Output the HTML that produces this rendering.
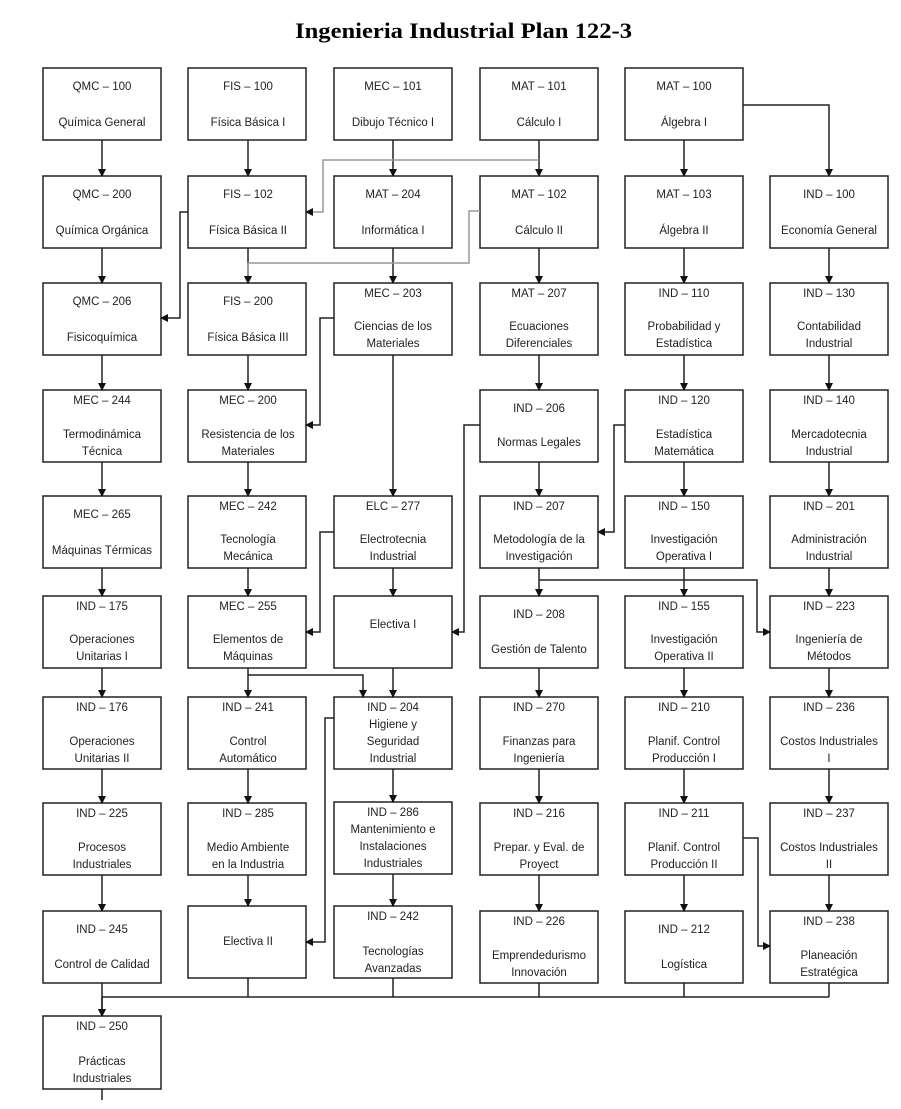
<!DOCTYPE html>
<html><head><meta charset="utf-8"><style>
body{margin:0;background:#fff}
svg text{font-family:"Liberation Sans",sans-serif;font-size:11.5px;fill:#222;text-anchor:middle}
</style></head><body>
<svg width="901" height="1104" viewBox="0 0 901 1104" xmlns="http://www.w3.org/2000/svg">
<defs><marker id="a" markerWidth="8" markerHeight="8" refX="7" refY="4" orient="auto" markerUnits="userSpaceOnUse"><path d="M0,0 L8,4 L0,8 z" fill="#111"/></marker></defs>
<text x="295" y="38" textLength="337" lengthAdjust="spacingAndGlyphs" style="font-family:'Liberation Serif',serif;font-size:22px;font-weight:bold;fill:#000;text-anchor:start">Ingenieria Industrial Plan 122-3</text>
<g fill="none" stroke="#222" stroke-width="1.5">
<rect x="43" y="68" width="118" height="72"/><rect x="188" y="68" width="118" height="72"/><rect x="334" y="68" width="118" height="72"/><rect x="480" y="68" width="118" height="72"/><rect x="625" y="68" width="118" height="72"/>
<rect x="43" y="176" width="118" height="72"/><rect x="188" y="176" width="118" height="72"/><rect x="334" y="176" width="118" height="72"/><rect x="480" y="176" width="118" height="72"/><rect x="625" y="176" width="118" height="72"/><rect x="770" y="176" width="118" height="72"/>
<rect x="43" y="283" width="118" height="72"/><rect x="188" y="283" width="118" height="72"/><rect x="334" y="283" width="118" height="72"/><rect x="480" y="283" width="118" height="72"/><rect x="625" y="283" width="118" height="72"/><rect x="770" y="283" width="118" height="72"/>
<rect x="43" y="390" width="118" height="72"/><rect x="188" y="390" width="118" height="72"/><rect x="480" y="390" width="118" height="72"/><rect x="625" y="390" width="118" height="72"/><rect x="770" y="390" width="118" height="72"/>
<rect x="43" y="496" width="118" height="72"/><rect x="188" y="496" width="118" height="72"/><rect x="334" y="496" width="118" height="72"/><rect x="480" y="496" width="118" height="72"/><rect x="625" y="496" width="118" height="72"/><rect x="770" y="496" width="118" height="72"/>
<rect x="43" y="596" width="118" height="72"/><rect x="188" y="596" width="118" height="72"/><rect x="334" y="596" width="118" height="72"/><rect x="480" y="596" width="118" height="72"/><rect x="625" y="596" width="118" height="72"/><rect x="770" y="596" width="118" height="72"/>
<rect x="43" y="697" width="118" height="72"/><rect x="188" y="697" width="118" height="72"/><rect x="334" y="697" width="118" height="72"/><rect x="480" y="697" width="118" height="72"/><rect x="625" y="697" width="118" height="72"/><rect x="770" y="697" width="118" height="72"/>
<rect x="43" y="803" width="118" height="72"/><rect x="188" y="803" width="118" height="72"/><rect x="334" y="802" width="118" height="72"/><rect x="480" y="803" width="118" height="72"/><rect x="625" y="803" width="118" height="72"/><rect x="770" y="803" width="118" height="72"/>
<rect x="43" y="911" width="118" height="72"/><rect x="188" y="906" width="118" height="72"/><rect x="334" y="906" width="118" height="72"/><rect x="480" y="911" width="118" height="72"/><rect x="625" y="911" width="118" height="72"/><rect x="770" y="911" width="118" height="72"/>
<rect x="43" y="1016" width="118" height="73"/>
</g>
<g fill="none" stroke="#222" stroke-width="1.5" marker-end="url(#a)">
<path d="M102 140V176"/><path d="M102 248V283"/><path d="M102 355V390"/><path d="M102 462V496"/><path d="M102 568V596"/><path d="M102 668V697"/><path d="M102 769V803"/><path d="M102 875V911"/><path d="M102 983V1016"/>
<path d="M248 140V176"/><path d="M248 248V283"/><path d="M248 355V390"/><path d="M248 462V496"/><path d="M248 568V596"/><path d="M248 668V697"/><path d="M248 769V803"/><path d="M248 875V906"/>
<path d="M393 140V176"/><path d="M393 248V283"/><path d="M393 355V496"/><path d="M393 568V596"/><path d="M393 668V697"/><path d="M393 769V802"/><path d="M393 874V906"/>
<path d="M539 140V176"/><path d="M539 248V283"/><path d="M539 355V390"/><path d="M539 462V496"/><path d="M539 568V596"/><path d="M539 668V697"/><path d="M539 769V803"/><path d="M539 875V911"/>
<path d="M684 140V176"/><path d="M684 248V283"/><path d="M684 355V390"/><path d="M684 462V496"/><path d="M684 568V596"/><path d="M684 668V697"/><path d="M684 769V803"/><path d="M684 875V911"/>
<path d="M743 105H829V176"/><path d="M829 248V283"/><path d="M829 355V390"/><path d="M829 462V496"/><path d="M829 568V596"/><path d="M829 668V697"/><path d="M829 769V803"/><path d="M829 875V911"/>
<path d="M188 212H180V318H161"/>
<path d="M334 318H320V425H306"/>
<path d="M334 532H320V632H306"/>
<path d="M480 425H464V632H452"/>
<path d="M625 425H614V532H598"/>
<path d="M539 580H757V632H770"/>
<path d="M248 675H363V697"/>
<path d="M334 718H325V942H306"/>
<path d="M743 838H758V946H770"/>
<path d="M102 997V1016"/>
</g>
<g fill="none" stroke="#999" stroke-width="1.5" marker-end="url(#a)">
<path d="M539 160H323V212H306"/>
<path d="M480 211H469V263H248V283"/>
</g>
<g fill="none" stroke="#222" stroke-width="1.5">
<path d="M102 997H829"/><path d="M248 978V997"/><path d="M393 978V997"/><path d="M539 983V997"/><path d="M684 983V997"/><path d="M829 983V997"/>
<path d="M102 1089V1100"/>
</g>
<g>
<text x="102" y="90">QMC – 100</text><text x="102" y="126">Química General</text>
<text x="248" y="90">FIS – 100</text><text x="248" y="126">Física Básica I</text>
<text x="393" y="90">MEC – 101</text><text x="393" y="126">Dibujo Técnico I</text>
<text x="539" y="90">MAT – 101</text><text x="539" y="126">Cálculo I</text>
<text x="684" y="90">MAT – 100</text><text x="684" y="126">Álgebra I</text>

<text x="102" y="198">QMC – 200</text><text x="102" y="234">Química Orgánica</text>
<text x="248" y="198">FIS – 102</text><text x="248" y="234">Física Básica II</text>
<text x="393" y="198">MAT – 204</text><text x="393" y="234">Informática I</text>
<text x="539" y="198">MAT – 102</text><text x="539" y="234">Cálculo II</text>
<text x="684" y="198">MAT – 103</text><text x="684" y="234">Álgebra II</text>
<text x="829" y="198">IND – 100</text><text x="829" y="234">Economía General</text>

<text x="102" y="305">QMC – 206</text><text x="102" y="341">Fisicoquímica</text>
<text x="248" y="305">FIS – 200</text><text x="248" y="341">Física Básica III</text>
<text x="393" y="297">MEC – 203</text><text x="393" y="330">Ciencias de los</text><text x="393" y="347">Materiales</text>
<text x="539" y="297">MAT – 207</text><text x="539" y="330">Ecuaciones</text><text x="539" y="347">Diferenciales</text>
<text x="684" y="297">IND – 110</text><text x="684" y="330">Probabilidad y</text><text x="684" y="347">Estadística</text>
<text x="829" y="297">IND – 130</text><text x="829" y="330">Contabilidad</text><text x="829" y="347">Industrial</text>

<text x="102" y="404">MEC – 244</text><text x="102" y="438">Termodinámica</text><text x="102" y="455">Técnica</text>
<text x="248" y="404">MEC – 200</text><text x="248" y="438">Resistencia de los</text><text x="248" y="455">Materiales</text>
<text x="539" y="412">IND – 206</text><text x="539" y="446">Normas Legales</text>
<text x="684" y="404">IND – 120</text><text x="684" y="438">Estadística</text><text x="684" y="455">Matemática</text>
<text x="829" y="404">IND – 140</text><text x="829" y="438">Mercadotecnia</text><text x="829" y="455">Industrial</text>

<text x="102" y="518">MEC – 265</text><text x="102" y="554">Máquinas Térmicas</text>
<text x="248" y="510">MEC – 242</text><text x="248" y="543">Tecnología</text><text x="248" y="560">Mecánica</text>
<text x="393" y="510">ELC – 277</text><text x="393" y="543">Electrotecnia</text><text x="393" y="560">Industrial</text>
<text x="539" y="510">IND – 207</text><text x="539" y="543">Metodología de la</text><text x="539" y="560">Investigación</text>
<text x="684" y="510">IND – 150</text><text x="684" y="543">Investigación</text><text x="684" y="560">Operativa I</text>
<text x="829" y="510">IND – 201</text><text x="829" y="543">Administración</text><text x="829" y="560">Industrial</text>

<text x="102" y="610">IND – 175</text><text x="102" y="643">Operaciones</text><text x="102" y="660">Unitarias I</text>
<text x="248" y="610">MEC – 255</text><text x="248" y="643">Elementos de</text><text x="248" y="660">Máquinas</text>
<text x="393" y="628">Electiva I</text>
<text x="539" y="618">IND – 208</text><text x="539" y="653">Gestión de Talento</text>
<text x="684" y="610">IND – 155</text><text x="684" y="643">Investigación</text><text x="684" y="660">Operativa II</text>
<text x="829" y="610">IND – 223</text><text x="829" y="643">Ingeniería de</text><text x="829" y="660">Métodos</text>

<text x="102" y="711">IND – 176</text><text x="102" y="745">Operaciones</text><text x="102" y="762">Unitarias II</text>
<text x="248" y="711">IND – 241</text><text x="248" y="745">Control</text><text x="248" y="762">Automático</text>
<text x="393" y="711">IND – 204</text><text x="393" y="728">Higiene y</text><text x="393" y="745">Seguridad</text><text x="393" y="762">Industrial</text>
<text x="539" y="711">IND – 270</text><text x="539" y="745">Finanzas para</text><text x="539" y="762">Ingeniería</text>
<text x="684" y="711">IND – 210</text><text x="684" y="745">Planif. Control</text><text x="684" y="762">Producción I</text>
<text x="829" y="711">IND – 236</text><text x="829" y="745">Costos Industriales</text><text x="829" y="762">I</text>

<text x="102" y="817">IND – 225</text><text x="102" y="851">Procesos</text><text x="102" y="868">Industriales</text>
<text x="248" y="817">IND – 285</text><text x="248" y="851">Medio Ambiente</text><text x="248" y="868">en la Industria</text>
<text x="393" y="816">IND – 286</text><text x="393" y="833">Mantenimiento e</text><text x="393" y="850">Instalaciones</text><text x="393" y="867">Industriales</text>
<text x="539" y="817">IND – 216</text><text x="539" y="851">Prepar. y Eval. de</text><text x="539" y="868">Proyect</text>
<text x="684" y="817">IND – 211</text><text x="684" y="851">Planif. Control</text><text x="684" y="868">Producción II</text>
<text x="829" y="817">IND – 237</text><text x="829" y="851">Costos Industriales</text><text x="829" y="868">II</text>

<text x="102" y="933">IND – 245</text><text x="102" y="968">Control de Calidad</text>
<text x="248" y="945">Electiva II</text>
<text x="393" y="920">IND – 242</text><text x="393" y="955">Tecnologías</text><text x="393" y="972">Avanzadas</text>
<text x="539" y="925">IND – 226</text><text x="539" y="959">Emprendedurismo</text><text x="539" y="976">Innovación</text>
<text x="684" y="933">IND – 212</text><text x="684" y="968">Logística</text>
<text x="829" y="925">IND – 238</text><text x="829" y="959">Planeación</text><text x="829" y="976">Estratégica</text>

<text x="102" y="1030">IND – 250</text><text x="102" y="1065">Prácticas</text><text x="102" y="1082">Industriales</text>
</g>
</svg>
</body></html>
